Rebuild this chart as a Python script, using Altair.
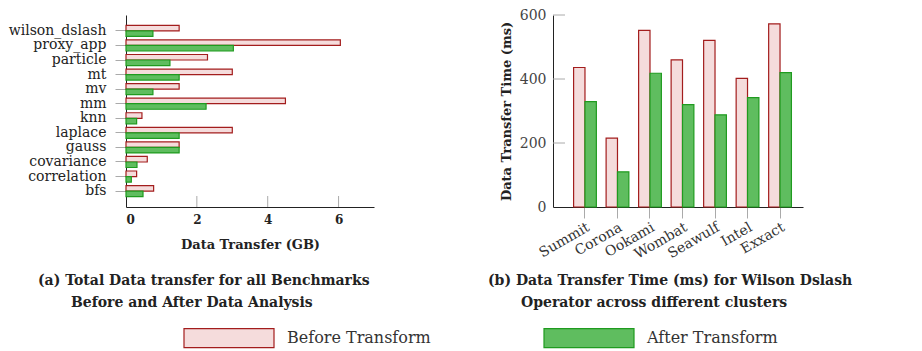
import altair as alt
import pandas as pd

# ---- data ----
benchmarks = ["wilson_dslash", "proxy_app", "particle", "mt", "mv", "mm", "knn",
              "laplace", "gauss", "covariance", "correlation", "bfs"]
bench_before = [1.5, 6.05, 2.3, 3.0, 1.5, 4.5, 0.45, 3.0, 1.5, 0.6, 0.3, 0.78]
bench_after = [0.76, 3.03, 1.24, 1.5, 0.76, 2.26, 0.3, 1.5, 1.5, 0.31, 0.15, 0.48]

clusters = ["Summit", "Corona", "Ookami", "Wombat", "Seawulf", "Intel", "Exxact"]
cluster_before = [436, 215, 552, 460, 521, 402, 572]
cluster_after = [329, 110, 418, 320, 288, 342, 420]

series = ["Before Transform", "After Transform"]
gb_ticks = [0, 2, 4, 6]
ms_ticks = [0, 200, 400, 600]

caption_a = ["(a) Total Data transfer for all Benchmarks", "Before and After Data Analysis"]
caption_b = ["(b) Data Transfer Time (ms) for Wilson Dslash", "Operator across different clusters"]

# ---- styling ----
SERIF = "DejaVu Serif"
RED, GREEN = "#a31d1d", "#1f9b1f"
FILL_RED, FILL_GREEN = "#f5dcdc", "#5fbd5f"
TICK = "#aaaaaa"
W_A, W_B, H = 248, 250, 192

df_a = pd.DataFrame({
    "benchmark": benchmarks * 2,
    "series": [series[0]] * len(benchmarks) + [series[1]] * len(benchmarks),
    "value": bench_before + bench_after,
})
df_b = pd.DataFrame({
    "cluster": clusters * 2,
    "series": [series[0]] * len(clusters) + [series[1]] * len(clusters),
    "value": cluster_before + cluster_after,
})

fill_scale = alt.Scale(domain=series, range=[FILL_RED, FILL_GREEN])
stroke_scale = alt.Scale(domain=series, range=[RED, GREEN])

legend = alt.Legend(
    title=None, orient="none", legendX=57, legendY=277, direction="horizontal",
    symbolType="M-1,-0.21H1V0.21H-1Z", symbolSize=8100, symbolStrokeWidth=1.2,
    labelFont=SERIF, labelFontSize=16, labelColor="#333", labelOffset=12,
    columnPadding=110, padding=0, labelLimit=400,
)

# ---- panel (a) ----
bars_a = alt.Chart(df_a).mark_bar(strokeWidth=1.2).encode(
    y=alt.Y("benchmark:N", sort=benchmarks,
            scale=alt.Scale(paddingInner=0.24, paddingOuter=0.71),
            axis=alt.Axis(title=None, labelFont=SERIF, labelFontSize=14, labelColor="#222",
                          tickColor=TICK, tickSize=11, labelPadding=9,
                          domainColor="#222", grid=False)),
    yOffset=alt.YOffset("series:N", sort=series),
    x=alt.X("value:Q", scale=alt.Scale(domain=[0, 7], nice=False),
            axis=alt.Axis(values=gb_ticks, title="Data Transfer (GB)", ticks=False, tickSize=0,
                          labelPadding=7, labelFont=SERIF, labelFontSize=12, labelFontWeight="bold",
                          labelColor="#222", titleFont=SERIF, titleFontSize=13,
                          titleFontWeight="bold", titleColor="#222", titlePadding=13,
                          domainColor="#222", grid=False)),
    fill=alt.Fill("series:N", scale=fill_scale, sort=series, legend=legend),
    stroke=alt.Stroke("series:N", scale=stroke_scale, sort=series, legend=legend),
)
ticks_a = alt.Chart(pd.DataFrame({"value": [t for t in gb_ticks if t > 0]})).mark_rule(
    color=TICK, strokeWidth=1).encode(
    x=alt.X("value:Q"), y=alt.value(H), y2=alt.value(H - 11))

cap_style = dict(font=SERIF, fontSize=14, fontWeight="bold", align="left",
                 baseline="middle", color="#222")
cap_a1 = alt.Chart(pd.DataFrame({"t": [caption_a[0]]})).mark_text(**cap_style).encode(
    x=alt.value(-88), y=alt.value(266), text="t:N")
cap_a2 = alt.Chart(pd.DataFrame({"t": [caption_a[1]]})).mark_text(**cap_style).encode(
    x=alt.value(-55), y=alt.value(288), text="t:N")

panel_a = alt.layer(ticks_a, bars_a, cap_a1, cap_a2).properties(width=W_A, height=H)

# ---- panel (b) ----
bars_b = alt.Chart(df_b).mark_bar(strokeWidth=1.2).encode(
    x=alt.X("cluster:N", sort=clusters,
            scale=alt.Scale(paddingInner=0.3, paddingOuter=0.495, align=0.64),
            axis=alt.Axis(title=None, labelAngle=330, labelAlign="right", labelFont=SERIF,
                          labelFontSize=14, labelColor="#333", tickColor=TICK, tickSize=11,
                          labelPadding=2, bandPosition=0.5, domainColor="#222", grid=False)),
    xOffset=alt.XOffset("series:N", sort=series),
    y=alt.Y("value:Q", scale=alt.Scale(domain=[0, 600], nice=False),
            axis=alt.Axis(values=ms_ticks, title="Data Transfer Time (ms)", ticks=False,
                          tickSize=0, labelPadding=7, labelFont=SERIF, labelFontSize=14,
                          labelColor="#444", titleFont=SERIF, titleFontSize=13,
                          titleFontWeight="bold", titleColor="#222", titlePadding=6,
                          domainColor="#222", grid=False)),
    fill=alt.Fill("series:N", scale=fill_scale, sort=series, legend=legend),
    stroke=alt.Stroke("series:N", scale=stroke_scale, sort=series, legend=legend),
)
ticks_b = alt.Chart(pd.DataFrame({"value": [t for t in ms_ticks if t > 0]})).mark_rule(
    color=TICK, strokeWidth=1).encode(
    y=alt.Y("value:Q"), x=alt.value(0), x2=alt.value(12))

cap_b1 = alt.Chart(pd.DataFrame({"t": [caption_b[0]]})).mark_text(**cap_style).encode(
    x=alt.value(-65), y=alt.value(266), text="t:N")
cap_b2 = alt.Chart(pd.DataFrame({"t": [caption_b[1]]})).mark_text(**cap_style).encode(
    x=alt.value(-32), y=alt.value(288), text="t:N")

panel_b = alt.layer(ticks_b, bars_b, cap_b1, cap_b2).properties(width=W_B, height=H)

chart = alt.hconcat(panel_a, panel_b, spacing=179).resolve_scale(
    fill="shared", stroke="shared").properties(
    bounds="flush", padding={"left": 0, "top": 0, "right": 4, "bottom": 0}
).configure_view(stroke=None)

chart.save("out.html", embed_options={"renderer": "svg", "actions": False})
